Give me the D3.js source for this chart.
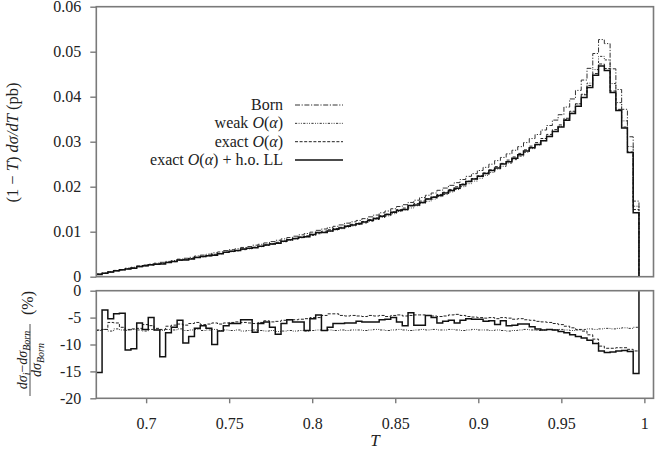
<!DOCTYPE html>
<html><head><meta charset="utf-8">
<script src="https://cdn.jsdelivr.net/npm/d3@7"></script>
<style>
body{margin:0;background:#fff}
svg{display:block}
text{font-family:"Liberation Serif","DejaVu Serif",serif;fill:#222}
</style>
</head><body>
<svg id="chart" width="655" height="451"></svg>
<script>
// ---- data ----
const binStart = 0.67;
const binWidth = 0.003476;

const born = [0.00060,0.00080,0.00110,0.00140,0.00160,0.00190,0.00210,0.00240,0.00260,0.00280,
0.00300,0.00320,0.00340,0.00360,0.00390,0.00410,0.00430,0.00460,0.00480,0.00500,
0.00530,0.00550,0.00580,0.00600,0.00620,0.00650,0.00670,0.00700,0.00720,0.00750,
0.00780,0.00810,0.00840,0.00870,0.00900,0.00930,0.00960,0.00990,0.01030,0.01060,
0.01090,0.01120,0.01150,0.01190,0.01220,0.01250,0.01290,0.01330,0.01370,0.01420,
0.01460,0.01510,0.01560,0.01600,0.01650,0.01700,0.01760,0.01810,0.01860,0.01920,
0.01970,0.02030,0.02090,0.02160,0.02230,0.02290,0.02360,0.02430,0.02500,0.02580,
0.02650,0.02730,0.02810,0.02890,0.02980,0.03070,0.03160,0.03260,0.03360,0.03480,
0.03600,0.03770,0.03950,0.04140,0.04370,0.04630,0.04960,0.05270,0.05180,0.04620,
0.04160,0.03720,0.03110,0.01680,0];

const weak = [0.00056,0.00074,0.00102,0.00130,0.00148,0.00176,0.00195,0.00222,0.00241,0.00260,
0.00278,0.00296,0.00316,0.00334,0.00362,0.00380,0.00399,0.00427,0.00444,0.00464,
0.00492,0.00509,0.00538,0.00556,0.00575,0.00601,0.00620,0.00649,0.00667,0.00694,
0.00722,0.00748,0.00777,0.00806,0.00833,0.00861,0.00888,0.00917,0.00955,0.00982,
0.01010,0.01037,0.01066,0.01102,0.01131,0.01159,0.01195,0.01233,0.01271,0.01316,
0.01352,0.01400,0.01448,0.01483,0.01528,0.01576,0.01633,0.01678,0.01726,0.01780,
0.01826,0.01884,0.01937,0.02000,0.02067,0.02125,0.02188,0.02253,0.02315,0.02392,
0.02454,0.02525,0.02602,0.02679,0.02765,0.02846,0.02926,0.03022,0.03118,0.03226,
0.03341,0.03495,0.03658,0.03838,0.04055,0.04301,0.04603,0.04896,0.04817,0.04292,
0.03869,0.03463,0.02892,0.01566,0];

const exact = [0.00056,0.00074,0.00104,0.00132,0.00149,0.00176,0.00195,0.00223,0.00244,0.00262,
0.00279,0.00297,0.00318,0.00337,0.00366,0.00384,0.00404,0.00433,0.00450,0.00469,
0.00498,0.00516,0.00545,0.00565,0.00584,0.00612,0.00630,0.00657,0.00678,0.00708,
0.00735,0.00764,0.00794,0.00823,0.00851,0.00881,0.00910,0.00941,0.00979,0.01011,
0.01043,0.01072,0.01097,0.01134,0.01164,0.01191,0.01228,0.01269,0.01306,0.01355,
0.01390,0.01441,0.01490,0.01525,0.01574,0.01624,0.01681,0.01727,0.01773,0.01828,
0.01877,0.01939,0.01998,0.02061,0.02123,0.02178,0.02242,0.02306,0.02375,0.02446,
0.02518,0.02591,0.02661,0.02740,0.02819,0.02901,0.02980,0.03071,0.03162,0.03268,
0.03373,0.03521,0.03677,0.03842,0.04042,0.04250,0.04514,0.04727,0.04626,0.04126,
0.03719,0.03326,0.02771,0.01492,0];

const exactHO = [0.00051,0.00077,0.00104,0.00134,0.00153,0.00169,0.00187,0.00226,0.00241,0.00266,
0.00278,0.00281,0.00313,0.00336,0.00369,0.00370,0.00393,0.00428,0.00449,0.00465,
0.00477,0.00509,0.00542,0.00563,0.00582,0.00615,0.00634,0.00646,0.00676,0.00707,
0.00727,0.00744,0.00789,0.00823,0.00848,0.00876,0.00889,0.00939,0.00984,0.00982,
0.01016,0.01052,0.01080,0.01119,0.01147,0.01179,0.01215,0.01253,0.01291,0.01343,
0.01383,0.01435,0.01470,0.01496,0.01582,0.01591,0.01647,0.01727,0.01767,0.01805,
0.01858,0.01918,0.01965,0.02041,0.02114,0.02169,0.02235,0.02291,0.02360,0.02417,
0.02502,0.02553,0.02630,0.02711,0.02795,0.02864,0.02936,0.03022,0.03118,0.03226,
0.03326,0.03476,0.03626,0.03788,0.03985,0.04204,0.04474,0.04680,0.04584,0.04093,
0.03694,0.03307,0.02759,0.01421,0];

// relative deviations from Born, in %
const ratioWeak = [-7.4,-7.2,-7.5,-7.1,-7.3,-7.4,-7.2,-7.3,-7.5,-7.2,
-7.3,-7.4,-7.2,-7.3,-7.1,-7.4,-7.3,-7.2,-7.4,-7.3,
-7.2,-7.4,-7.3,-7.4,-7.3,-7.5,-7.4,-7.3,-7.4,-7.5,
-7.4,-7.6,-7.5,-7.4,-7.5,-7.4,-7.5,-7.4,-7.3,-7.4,
-7.3,-7.4,-7.3,-7.4,-7.3,-7.3,-7.4,-7.3,-7.2,-7.3,
-7.4,-7.3,-7.2,-7.3,-7.4,-7.3,-7.2,-7.3,-7.2,-7.3,
-7.3,-7.2,-7.3,-7.4,-7.3,-7.2,-7.3,-7.3,-7.4,-7.3,
-7.4,-7.5,-7.4,-7.3,-7.2,-7.3,-7.4,-7.3,-7.2,-7.3,
-7.2,-7.3,-7.4,-7.3,-7.2,-7.1,-7.2,-7.1,-7.0,-7.1,
-7.0,-6.9,-7.0,-6.8];

const ratioExact = [-7.3,-7.2,-5.9,-6.0,-6.8,-7.2,-7.1,-7.0,-6.3,-6.5,
-7.0,-7.2,-6.6,-6.4,-6.2,-6.4,-6.1,-5.9,-6.3,-6.2,
-6.0,-6.2,-6.0,-5.9,-5.8,-5.9,-6.0,-6.1,-5.9,-5.6,
-5.8,-5.7,-5.5,-5.4,-5.4,-5.3,-5.2,-5.0,-5.0,-4.6,
-4.3,-4.3,-4.6,-4.7,-4.6,-4.7,-4.8,-4.6,-4.7,-4.6,
-4.8,-4.6,-4.5,-4.7,-4.6,-4.5,-4.5,-4.6,-4.7,-4.8,
-4.7,-4.5,-4.4,-4.6,-4.8,-4.9,-5.0,-5.1,-5.0,-5.2,
-5.0,-5.1,-5.3,-5.2,-5.4,-5.5,-5.7,-5.8,-5.9,-6.1,
-6.3,-6.6,-6.9,-7.2,-7.5,-8.2,-9.0,-10.3,-10.7,-10.7,
-10.6,-10.6,-10.9,-11.2];

const ratioExactHO = [-15.2,-3.6,-5.2,-4.3,-4.2,-11.0,-10.8,-6.0,-7.2,-5.0,
-7.3,-12.3,-7.8,-6.8,-5.5,-9.7,-8.5,-7.0,-6.5,-7.0,
-10.0,-7.5,-6.5,-6.1,-6.1,-5.4,-5.4,-7.7,-6.1,-5.8,
-6.8,-8.1,-6.1,-5.4,-5.8,-5.8,-7.4,-5.2,-4.5,-7.4,
-6.8,-6.1,-6.1,-6.0,-6.0,-5.7,-5.8,-5.8,-5.8,-5.4,
-5.3,-5.0,-5.8,-6.5,-4.1,-6.4,-6.4,-4.6,-5.0,-6.0,
-5.7,-5.5,-6.0,-5.5,-5.2,-5.3,-5.3,-5.7,-5.6,-6.3,
-5.6,-6.5,-6.4,-6.2,-6.2,-6.7,-7.1,-7.3,-7.2,-7.3,
-7.6,-7.8,-8.2,-8.5,-8.8,-9.2,-9.8,-11.2,-11.5,-11.4,
-11.2,-11.1,-11.3,-15.4,100];

const xTickValues = [0.7, 0.75, 0.8, 0.85, 0.9, 0.95, 1];
const xTickLabels = ["0.7", "0.75", "0.8", "0.85", "0.9", "0.95", "1"];
const yTopTicks = [0, 0.01, 0.02, 0.03, 0.04, 0.05, 0.06];
const yTopLabels = ["0", "0.01", "0.02", "0.03", "0.04", "0.05", "0.06"];
const yBotTicks = [0, -5, -10, -15, -20];
const yBotLabels = ["0", "-5", "-10", "-15", "-20"];

// ---- layout ----
const svg = d3.select("#chart");
const L = 96.3, R = 653.5;
const topT = 6.7, topB = 276.7, botT = 290.7, botB = 398.3;
const frame = "#7a7a7a";
const serif = '"Liberation Serif","DejaVu Serif",serif';

const x = d3.scaleLinear().domain([0.67, 1.0058]).range([L, 654]);
const yTop = d3.scaleLinear().domain([0, 0.06]).range([topB, topT]);
const yBot = d3.scaleLinear().domain([-20, 0]).range([botB, botT]);

const defs = svg.append("defs");
defs.append("clipPath").attr("id","clipTop").append("rect")
  .attr("x",L).attr("y",topT).attr("width",R-L).attr("height",topB-topT);
defs.append("clipPath").attr("id","clipBot").append("rect")
  .attr("x",L).attr("y",botT).attr("width",R-L).attr("height",botB-botT);

const styles = {
  born:   {dash:"5,1.6,1.2,1.6", w:1.0, c:"#333"},
  weak:   {dash:"2.2,1.4,0.9,1.4,0.9,1.4", w:1.0, c:"#333"},
  exact:  {dash:"3,1.6", w:1.0, c:"#222"},
  ho:     {dash:null, w:1.5, c:"#111"}
};

function stepPoints(arr){
  const pts = arr.map((v,i)=>[binStart + i*binWidth, v]);
  pts.push([binStart + arr.length*binWidth, arr[arr.length-1]]);
  return pts;
}
function drawSeries(g, arr, yScale, st){
  const line = d3.line().x(d=>x(d[0])).y(d=>yScale(d[1])).curve(d3.curveStepAfter);
  g.append("path").attr("d", line(stepPoints(arr)))
    .attr("fill","none").attr("stroke",st.c).attr("stroke-width",st.w)
    .attr("stroke-dasharray", st.dash);
}

// top panel
const gTop = svg.append("g").attr("clip-path","url(#clipTop)");
drawSeries(gTop, born, yTop, styles.born);
drawSeries(gTop, weak, yTop, styles.weak);
drawSeries(gTop, exact, yTop, styles.exact);
drawSeries(gTop, exactHO, yTop, styles.ho);

// bottom panel
const gBot = svg.append("g").attr("clip-path","url(#clipBot)");
drawSeries(gBot, ratioWeak, yBot, styles.weak);
drawSeries(gBot, ratioExact, yBot, styles.exact);
drawSeries(gBot, ratioExactHO, yBot, styles.ho);

// frames
[[topT,topB],[botT,botB]].forEach(([t,b])=>{
  svg.append("rect").attr("x",L).attr("y",t).attr("width",R-L).attr("height",b-t)
    .attr("fill","none").attr("stroke",frame).attr("stroke-width",1.6);
});

// axes
function styleAxis(g){
  g.attr("font-family", serif).attr("font-size", 16);
  g.select(".domain").remove();
  g.selectAll(".tick line").attr("stroke",frame).attr("stroke-width",1.4);
  g.selectAll(".tick text").attr("fill","#222")
    .style("font-family",serif).style("font-size","16px");
}
const yTopAxis = d3.axisLeft(yTop).tickValues(yTopTicks).tickSize(6).tickPadding(9)
  .tickFormat((d,i)=>yTopLabels[i]);
svg.append("g").attr("transform",`translate(${L},0)`).call(yTopAxis).call(styleAxis);

const yBotAxis = d3.axisLeft(yBot).tickValues(yBotTicks).tickSize(6).tickPadding(9)
  .tickFormat((d,i)=>yBotLabels[i]);
svg.append("g").attr("transform",`translate(${L},0)`).call(yBotAxis).call(styleAxis);

const xAxis = d3.axisBottom(x).tickValues(xTickValues).tickSize(5).tickPadding(14)
  .tickFormat((d,i)=>xTickLabels[i]);
svg.append("g").attr("transform",`translate(0,${botB})`).call(xAxis).call(styleAxis);

// x label
svg.append("text").attr("x",375).attr("y",446).attr("text-anchor","middle")
  .style("font-size","17px").style("font-style","italic").text("T");

// top y label
const yl = svg.append("text").attr("transform","translate(18,142.5) rotate(-90)")
  .attr("text-anchor","middle").style("font-size","16.5px");
yl.append("tspan").text("(1 \u2212 ");
yl.append("tspan").style("font-style","italic").text("T");
yl.append("tspan").text(") ");
yl.append("tspan").style("font-style","italic").text("d\u03c3/dT");
yl.append("tspan").text(" (pb)");

// bottom y label: fraction
const gf = svg.append("g").attr("transform","translate(30,360) rotate(-90)");
const num = gf.append("text").attr("x",0).attr("y",-3).attr("text-anchor","middle")
  .style("font-size","14px").style("font-style","italic");
num.append("tspan").text("d\u03c3");
num.append("tspan").attr("dy",3).style("font-size","10px").text("i");
num.append("tspan").attr("dy",-3).style("font-style","normal").text("\u2212");
num.append("tspan").text("d\u03c3");
num.append("tspan").attr("dy",3).style("font-size","10px").text("Born");
gf.append("line").attr("x1",-36).attr("x2",36).attr("y1",0).attr("y2",0)
  .attr("stroke","#222").attr("stroke-width",0.8);
const den = gf.append("text").attr("x",0).attr("y",10.5).attr("text-anchor","middle")
  .style("font-size","14px").style("font-style","italic");
den.append("tspan").text("d\u03c3");
den.append("tspan").attr("dy",3).style("font-size","10px").text("Born");
gf.append("text").attr("x",57).attr("y",3).attr("text-anchor","middle")
  .style("font-size","16px").text("(%)");

// legend
const legendRows = [
  {key:"born", parts:[["Born",false]]},
  {key:"weak", parts:[["weak ",false],["O",true],["(",false],["\u03b1",true],[")",false]]},
  {key:"exact", parts:[["exact ",false],["O",true],["(",false],["\u03b1",true],[")",false]]},
  {key:"ho", parts:[["exact ",false],["O",true],["(",false],["\u03b1",true],[") + h.o. LL",false]]}
];
legendRows.forEach((row,i)=>{
  const yy = 105 + i*18.35;
  const t = svg.append("text").attr("x",283).attr("y",yy+5).attr("text-anchor","end")
    .style("font-size","16px");
  row.parts.forEach(p=>{
    const s = t.append("tspan").text(p[0]);
    if(p[1]) s.style("font-style","italic");
  });
  const st = styles[row.key];
  svg.append("line").attr("x1",295).attr("x2",343).attr("y1",yy).attr("y2",yy)
    .attr("stroke",st.c).attr("stroke-width",st.w).attr("stroke-dasharray",st.dash);
});
</script>
</body></html>
